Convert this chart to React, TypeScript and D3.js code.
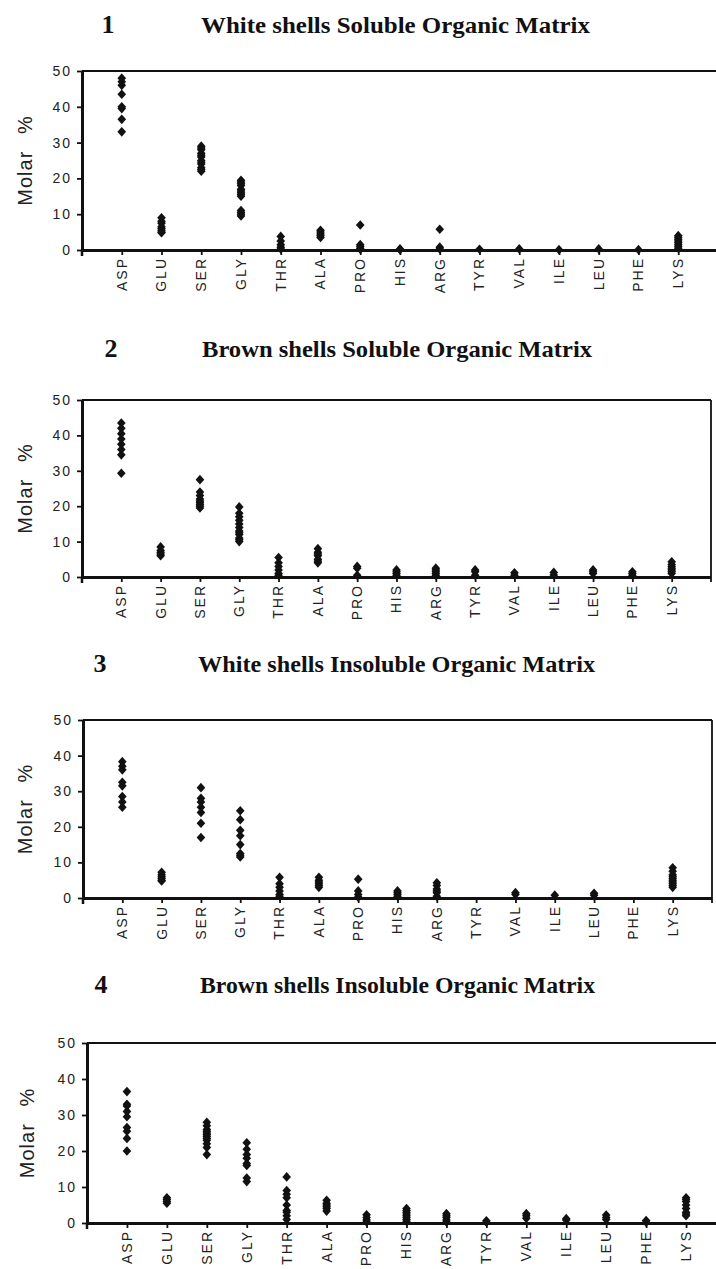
import React, { useEffect, useRef } from "react";
import * as d3 from "d3";

// amino acids on the x axis
const AMINO_ACIDS = ["ASP", "GLU", "SER", "GLY", "THR", "ALA", "PRO", "HIS", "ARG", "TYR", "VAL", "ILE", "LEU", "PHE", "LYS"];
const Y_TICKS = [0, 10, 20, 30, 40, 50];

// molar % per amino acid, one array per sample group (same order as AMINO_ACIDS)
const whiteSoluble: number[][] = [
  [48, 47, 46, 43.5, 40, 39.5, 36.5, 33],
  [9, 8, 7.5, 6.5, 6, 5.5, 5, 4.8],
  [29, 28.5, 28, 27, 26.5, 26, 25, 24.5, 24, 23, 22.5, 22],
  [19.5, 19, 18.5, 18, 17, 16.5, 16, 15.5, 15, 11, 10.5, 10, 9.5],
  [3.8, 2.5, 1.5, 0.8, 0.3],
  [5.5, 5, 4.5, 4, 3.5],
  [7, 1.5, 1, 0.5, 0.2],
  [0.3, 0.1],
  [5.8, 0.8, 0.3],
  [0.2],
  [0.3],
  [0.1],
  [0.3],
  [0.1],
  [4, 3.5, 3, 2.5, 2, 1.5, 1, 0.5],
];

const brownSoluble: number[][] = [
  [43.5, 42, 40.5, 39, 37.5, 36, 34.5, 29.3],
  [8.5, 7.5, 7, 6.5, 6],
  [27.5, 24, 23, 22, 21.5, 21, 20.5, 20, 19.5],
  [19.8, 18, 17, 16, 15, 14, 13, 12.5, 12, 11, 10.5, 10],
  [5.5, 4, 3, 2, 1, 0.5],
  [8, 7, 6.5, 6, 5, 4.5, 4],
  [3, 2.5, 0.5],
  [2, 1.5, 1, 0.5],
  [2.5, 2, 1.5, 1, 0.5],
  [2, 1.5, 0.5],
  [1.2, 0.5],
  [1.3, 0.6],
  [2, 1.5, 1],
  [1.5, 1, 0.5],
  [4.3, 3.5, 3, 2.5, 2, 1.5, 1],
];

const whiteInsoluble: number[][] = [
  [38.3, 37, 36, 32.5, 31.5, 28.5, 27, 25.5],
  [7.2, 6.5, 6, 5.5, 5, 4.8],
  [31, 28, 27, 25.5, 24, 21, 17],
  [24.5, 22, 19, 17.5, 15, 12.5, 12, 11.5],
  [5.8, 4, 3, 2, 1, 0.5],
  [5.8, 5, 4.5, 4, 3.5, 3],
  [5.3, 2, 1, 0.3],
  [2, 1.5, 1, 0.5],
  [4.3, 3.5, 2.5, 2, 1.5, 0.5],
  [],
  [1.5, 1],
  [0.8],
  [1.3, 0.8],
  [],
  [8.5, 7.5, 6.5, 6, 5.5, 5, 4.5, 4, 3.5, 3],
];

const brownInsoluble: number[][] = [
  [36.5, 33, 32.5, 31, 29.5, 26.5, 25.5, 23.5, 20],
  [7, 6.5, 6, 5.5],
  [28, 27, 26, 25.5, 25, 24.5, 24, 23.5, 23, 22, 21, 19],
  [22.3, 20.5, 19, 18, 16.5, 16, 12.5, 11.5],
  [12.8, 9, 8, 7, 5, 3.5, 3, 2, 1],
  [6.3, 5.5, 5, 4.5, 4, 3.3],
  [2.3, 1.5, 0.8, 0.3],
  [4, 3.5, 3, 2.5, 2, 1.5, 1, 0.5],
  [2.6, 2, 1.5, 0.8, 0.3],
  [0.6, 0.2],
  [2.6, 2, 1.3],
  [1.2, 0.8],
  [2.2, 1.5, 1],
  [0.7, 0.2],
  [7, 6.5, 6, 5, 4, 3, 2.5, 2],
];

const PANEL_NUMBERS = ["1", "2", "3", "4"];
const PANEL_TITLES = [
  "White shells Soluble Organic Matrix",
  "Brown shells Soluble Organic Matrix",
  "White shells Insoluble Organic Matrix",
  "Brown shells Insoluble Organic Matrix",
];
const PANEL_DATA = [whiteSoluble, brownSoluble, whiteInsoluble, brownInsoluble];

// page layout of each panel (pixels)
const LAYOUT = [
  { left: 82, top: 71, bottom: 250, xEnd: 718, closed: false, numX: 108, titleY: 33, titleX0: 201, titleX1: 590, labelX: 25 },
  { left: 82, top: 400, bottom: 577, xEnd: 711, closed: true, numX: 111, titleY: 357, titleX0: 202, titleX1: 592, labelX: 25 },
  { left: 83, top: 720, bottom: 898, xEnd: 712, closed: true, numX: 100, titleY: 672, titleX0: 198, titleX1: 595, labelX: 25 },
  { left: 87, top: 1043, bottom: 1223, xEnd: 726, closed: false, numX: 101, titleY: 993, titleX0: 200, titleX1: 595, labelX: 27 },
];

const WIDTH = 716;
const HEIGHT = 1269;
const SANS = "'Liberation Sans', Arial, sans-serif";
const SERIF = "'Liberation Serif', 'Times New Roman', serif";
const INK = "#111";

// slightly taller than wide diamond
const diamond = {
  draw(ctx: any, size: number) {
    const h = Math.sqrt(size) * 0.78;
    const w = h * 0.9;
    ctx.moveTo(0, -h);
    ctx.lineTo(w, 0);
    ctx.lineTo(0, h);
    ctx.lineTo(-w, 0);
    ctx.closePath();
  },
};

function drawPanel(svg: any, idx: number) {
  const lay = LAYOUT[idx];
  const data = PANEL_DATA[idx];
  const g = svg.append("g");

  const x = d3.scalePoint().domain(AMINO_ACIDS).range([lay.left, lay.xEnd]).padding(1);
  const y = d3.scaleLinear().domain([0, 50]).range([lay.bottom, lay.top]);
  const right = lay.closed ? lay.xEnd : WIDTH;

  // titles
  g.append("text")
    .attr("x", lay.numX)
    .attr("y", lay.titleY)
    .attr("text-anchor", "middle")
    .style("font-family", SERIF)
    .style("font-weight", "bold")
    .style("font-size", "26px")
    .attr("fill", INK)
    .text(PANEL_NUMBERS[idx]);

  g.append("text")
    .attr("x", lay.titleX0)
    .attr("y", lay.titleY)
    .attr("textLength", lay.titleX1 - lay.titleX0)
    .attr("lengthAdjust", "spacingAndGlyphs")
    .style("font-family", SERIF)
    .style("font-weight", "bold")
    .style("font-size", "24px")
    .attr("fill", INK)
    .text(PANEL_TITLES[idx]);

  // frame
  g.append("line")
    .attr("x1", lay.left).attr("x2", right)
    .attr("y1", lay.top).attr("y2", lay.top)
    .attr("stroke", INK).attr("stroke-width", 2);
  if (lay.closed) {
    g.append("line")
      .attr("x1", right).attr("x2", right)
      .attr("y1", lay.top).attr("y2", lay.bottom + 5)
      .attr("stroke", INK).attr("stroke-width", 1.8);
  }

  // y axis
  const yAxis = g.append("g")
    .attr("transform", `translate(${lay.left},0)`)
    .call(d3.axisLeft(y).tickValues(Y_TICKS).tickSize(5).tickSizeOuter(0).tickPadding(6));
  yAxis.select(".domain").attr("stroke", INK).attr("stroke-width", 3);
  yAxis.selectAll(".tick line").attr("stroke", INK).attr("stroke-width", 1.8);
  yAxis.selectAll(".tick text")
    .attr("x", -10)
    .style("font-family", SANS)
    .style("font-size", "14px")
    .style("letter-spacing", "2px")
    .attr("fill", "#222");

  // x axis
  const xAxis = g.append("g")
    .attr("transform", `translate(0,${lay.bottom})`)
    .call(d3.axisBottom(x).tickSize(5).tickSizeOuter(0).tickFormat(() => ""));
  xAxis.select(".domain").attr("d", `M${lay.left},0.5H${right}`).attr("stroke", INK).attr("stroke-width", 3);
  xAxis.selectAll(".tick line").attr("stroke", INK).attr("stroke-width", 1.8);
  g.append("line")
    .attr("x1", lay.left).attr("x2", lay.left)
    .attr("y1", lay.bottom).attr("y2", lay.bottom + 6)
    .attr("stroke", INK).attr("stroke-width", 2.5);

  g.selectAll("text.xlab")
    .data(AMINO_ACIDS)
    .enter()
    .append("text")
    .attr("class", "xlab")
    .attr("transform", (d: string) => `translate(${x(d)},${lay.bottom + 7}) rotate(-90)`)
    .attr("dy", "0.35em")
    .attr("text-anchor", "end")
    .style("font-family", SANS)
    .style("font-size", "14px")
    .style("letter-spacing", "2px")
    .attr("fill", "#222")
    .text((d: string) => d);

  // y label
  g.append("text")
    .attr("transform", `translate(${lay.labelX},${(lay.top + lay.bottom) / 2}) rotate(-90)`)
    .attr("dy", "0.35em")
    .attr("text-anchor", "middle")
    .style("font-family", SANS)
    .style("font-size", "20px")
    .style("letter-spacing", "1px")
    .style("word-spacing", "10px")
    .attr("fill", "#222")
    .text("Molar %");

  // points
  const pts = AMINO_ACIDS.flatMap((aa, i) => data[i].map((v) => ({ aa, v })));
  const sym = d3.symbol().type(diamond as any).size(38);
  g.selectAll("path.pt")
    .data(pts)
    .enter()
    .append("path")
    .attr("class", "pt")
    .attr("d", sym)
    .attr("transform", (d: any) => `translate(${x(d.aa)},${y(d.v)})`)
    .attr("fill", INK);
}

export default function App() {
  const ref = useRef<SVGSVGElement>(null);

  useEffect(() => {
    const svg = d3.select(ref.current);
    svg.selectAll("*").remove();
    svg.append("rect").attr("width", WIDTH).attr("height", HEIGHT).attr("fill", "#fff");
    PANEL_DATA.forEach((_, i) => drawPanel(svg, i));
  }, []);

  return (
    <svg
      ref={ref}
      width={WIDTH}
      height={HEIGHT}
      style={{ position: "absolute", left: 0, top: 0, display: "block" }}
    />
  );
}
